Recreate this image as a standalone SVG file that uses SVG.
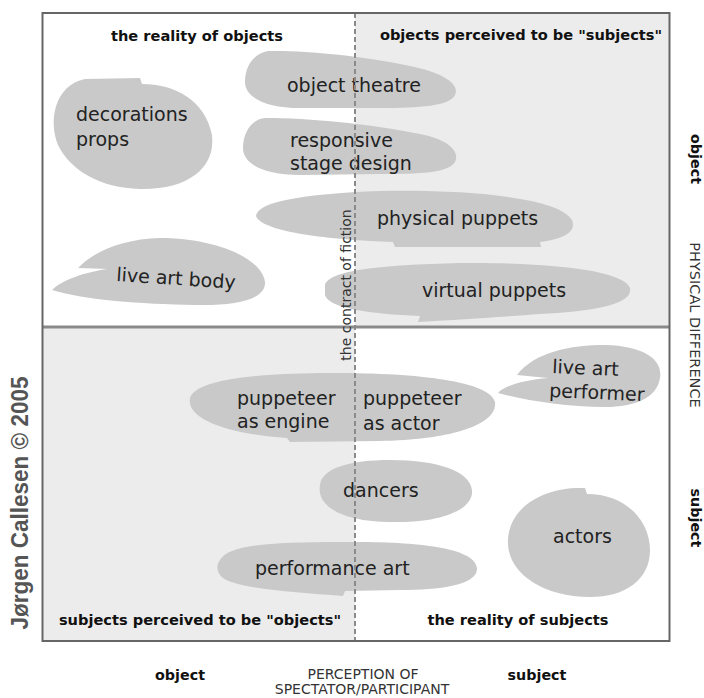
<svg xmlns="http://www.w3.org/2000/svg" width="704" height="698" viewBox="0 0 704 698">
  <defs>
    <style>
      .blob { fill: #c9c9c9; stroke: none; }
      .lbl { font-family: "DejaVu Sans", Verdana, sans-serif; font-size: 19px; fill: #222; }
      .quad { font-family: "DejaVu Sans", Verdana, sans-serif; font-size: 14.6px; font-weight: bold; fill: #111; }
      .axis { font-family: "DejaVu Sans", Verdana, sans-serif; font-size: 14px; fill: #333; }
      .axisb { font-family: "DejaVu Sans", Verdana, sans-serif; font-size: 14.3px; font-weight: bold; fill: #111; }
      .fiction { font-family: "DejaVu Sans", Verdana, sans-serif; font-size: 14px; fill: #333; }
      .copy { font-family: "Liberation Sans", Arial, sans-serif; font-size: 24px; font-weight: bold; fill: #555; }
    </style>
  </defs>

  <rect width="704" height="698" fill="#ffffff"/>

  <g id="frame">
    <rect x="355" y="13" width="314" height="314" fill="#ececec"/>
    <rect x="42" y="327" width="313" height="314" fill="#ececec"/>
  </g>

  <g id="node-decorations">
    <path class="blob" d="M85,79 L140,78 L142,84 C175,84 205,100 212,135 C216,170 185,190 140,189 C100,188 70,170 58,145 C48,120 55,85 85,79 Z"/>
    <text class="lbl" x="76" y="121">decorations</text>
    <text class="lbl" x="76" y="146">props</text>
  </g>

  <g id="node-object-theatre">
    <path class="blob" d="M268,51 C300,50 360,55 410,66 C445,73 460,85 455,95 C450,106 420,108 380,108 L300,108 C265,108 245,97 245,82 C245,65 255,53 268,51 Z"/>
    <text class="lbl" x="287" y="92">object theatre</text>
  </g>

  <g id="node-responsive-stage-design">
    <path class="blob" d="M265,118 C310,118 370,124 420,134 C450,140 460,152 455,162 C448,173 420,174 380,174 L300,175 C262,175 243,163 243,148 C243,132 252,119 265,118 Z"/>
    <text class="lbl" x="290" y="147">responsive</text>
    <text class="lbl" x="290" y="170">stage design</text>
  </g>

  <g id="node-physical-puppets">
    <path class="blob" d="M256,216 C258,202 300,194 380,191 C470,189 560,198 572,220 C578,235 555,240 540,242 L541,247 L395,247 L393,242 C330,240 262,232 256,216 Z"/>
    <text class="lbl" x="377" y="225">physical puppets</text>
  </g>

  <g id="node-live-art-body">
    <path class="blob" d="M52,290 C62,280 85,272 108,269 L78,268 C95,250 125,239 160,238 C215,238 262,258 265,282 C266,300 235,306 195,305 C140,304 85,300 52,290 Z"/>
    <text class="lbl" x="116" y="281" transform="rotate(3.7 116 281)">live art body</text>
  </g>

  <g id="node-virtual-puppets">
    <path class="blob" d="M325,285 C330,270 380,265 460,263 C560,262 625,272 630,288 C634,305 590,312 540,314 C500,317 450,320 418,322 L420,316 C370,314 328,308 325,295 Z"/>
    <text class="lbl" x="422" y="297">virtual puppets</text>
  </g>

  <g id="node-live-art-performer">
    <path class="blob" d="M517,375 C535,352 570,345 605,345 C645,346 663,360 660,378 C657,398 635,407 605,407 C565,407 525,400 498,393 C505,385 525,380 548,378 Z"/>
    <g transform="rotate(2.5 552 373)">
      <text class="lbl" x="552" y="373">live art</text>
      <text class="lbl" x="550" y="397">performer</text>
    </g>
  </g>

  <g id="node-puppeteer">
    <path class="blob" d="M190,398 C195,382 240,374 320,373 C410,372 490,380 495,402 C498,425 450,440 380,441 L290,442 L287,438 C230,434 186,420 190,398 Z"/>
    <text class="lbl" x="237" y="405">puppeteer</text>
    <text class="lbl" x="237" y="428">as engine</text>
    <text class="lbl" x="363" y="405">puppeteer</text>
    <text class="lbl" x="363" y="430">as actor</text>
  </g>

  <g id="node-dancers">
    <path class="blob" d="M320,485 C322,468 350,460 390,460 C440,460 470,472 472,490 C474,510 440,522 400,522 C360,523 335,515 325,503 C320,497 319,492 320,485 Z"/>
    <text class="lbl" x="343" y="497">dancers</text>
  </g>

  <g id="node-actors">
    <path class="blob" d="M587,494 C625,494 650,520 650,550 C650,580 625,597 590,597 C545,597 510,575 508,545 C506,510 540,488 580,488 L585,488 Z"/>
    <text class="lbl" x="553" y="543">actors</text>
  </g>

  <g id="node-performance-art">
    <path class="blob" d="M220,560 C228,545 270,542 340,542 C420,541 475,548 477,568 C478,585 440,590 400,590 L345,591 L343,596 C290,592 228,588 220,575 C216,569 217,564 220,560 Z"/>
    <text class="lbl" x="255" y="575">performance art</text>
  </g>

  <g id="connectors">
    <line x1="42" y1="327" x2="669" y2="327" stroke="#8a8a8a" stroke-width="3"/>
    <line x1="355" y1="13" x2="355" y2="641" stroke="#8a8a8a" stroke-width="2" stroke-dasharray="5 3"/>
    <rect x="42.5" y="13" width="627" height="628" fill="none" stroke="#666" stroke-width="2"/>
  </g>

  <g id="labels">
    <text class="fiction" transform="translate(351,285) rotate(-90)" text-anchor="middle">the contract of fiction</text>
    <text class="quad" x="197" y="41" text-anchor="middle">the reality of objects</text>
    <text class="quad" x="521" y="40" text-anchor="middle">objects perceived to be "subjects"</text>
    <text class="quad" x="200" y="625" text-anchor="middle">subjects perceived to be "objects"</text>
    <text class="quad" x="518" y="625" text-anchor="middle">the reality of subjects</text>

    <text class="axisb" x="180" y="680" text-anchor="middle">object</text>
    <text class="axisb" x="537" y="680" text-anchor="middle">subject</text>
    <text class="axis" x="363" y="679" text-anchor="middle">PERCEPTION OF</text>
    <text class="axis" x="362" y="694" text-anchor="middle">SPECTATOR/PARTICIPANT</text>

    <text class="axisb" transform="translate(691,159) rotate(90)" text-anchor="middle">object</text>
    <text class="axis" transform="translate(690,325) rotate(90)" text-anchor="middle" style="font-size:14.5px">PHYSICAL DIFFERENCE</text>
    <text class="axisb" transform="translate(691,518) rotate(90)" text-anchor="middle">subject</text>

    <text class="copy" transform="translate(28,503) rotate(-90)" text-anchor="middle" textLength="253" lengthAdjust="spacingAndGlyphs">Jørgen Callesen © 2005</text>
  </g>
</svg>
